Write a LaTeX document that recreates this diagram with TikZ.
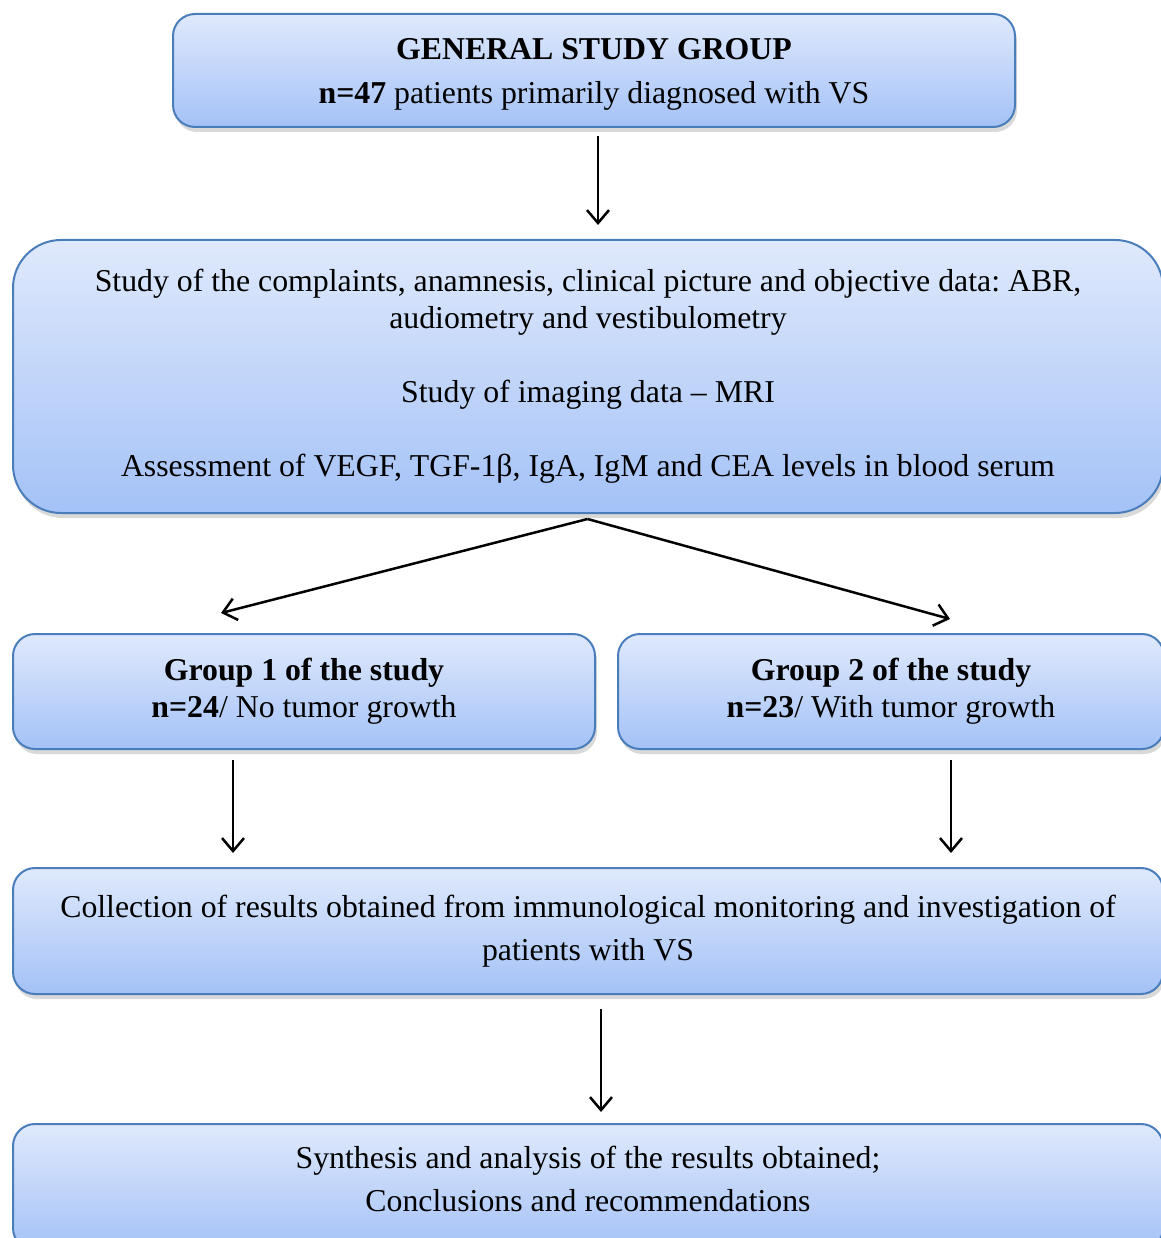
\documentclass[tikz,border=0pt]{standalone}
\usepackage{fontspec}
\setmainfont{Liberation Serif}
\usetikzlibrary{arrows.meta,shadows}
\frenchspacing

\definecolor{boxtop}{RGB}{223,233,252}
\definecolor{boxbot}{RGB}{164,194,247}
\definecolor{boxline}{RGB}{74,126,187}

\tikzset{
  stagebox/.style={draw=boxline, line width=2pt, rounded corners=22pt,
    top color=boxtop, bottom color=boxbot, align=center, inner sep=0pt,
    font=\fontsize{31.8}{37}\selectfont,
    drop shadow={opacity=0.3, shadow xshift=2pt, shadow yshift=-5pt}},
  flowarrow/.style={line width=2.5pt, -{Straight Barb[length=13pt,width=22pt]}}
}

\begin{document}
\begin{tikzpicture}[x=1pt,y=1pt,yscale=-1]
\useasboundingbox (0,0) rectangle (1160,1238);

% boxes
\node [stagebox, minimum width=842pt, minimum height=113pt] (general) at (594,70.5)
  {\rule{0pt}{28pt}\textbf{GENERAL STUDY GROUP}\\[7pt]\textbf{n=47} patients primarily diagnosed with VS};
\node [stagebox, rounded corners=48pt, minimum width=1150pt, minimum height=273pt] (study) at (588,376.5)
  {Study of the complaints, anamnesis, clinical picture and objective data: ABR,\\
   audiometry and vestibulometry\\[37pt]
   Study of imaging data -- MRI\\[37pt]
   Assessment of VEGF, TGF-1β, IgA, IgM and CEA levels in blood serum};
\node [stagebox, minimum width=582pt, minimum height=115pt] (group1) at (304,691.5)
  {\textbf{Group 1 of the study}\\\textbf{n=24}/ No tumor growth};
\node [stagebox, minimum width=546pt, minimum height=115pt] (group2) at (891,691.5)
  {\textbf{Group 2 of the study}\\\textbf{n=23}/ With tumor growth};
\node [stagebox, minimum width=1150pt, minimum height=126pt] (collect) at (588,931)
  {Collection of results obtained from immunological monitoring and investigation of\\[6pt]
   patients with VS};
\node [stagebox, minimum width=1150pt, minimum height=126pt] (synth) at (588,1187)
  {Synthesis and analysis of the results obtained;\\[6pt]
   Conclusions and recommendations\rule[-17pt]{0pt}{1pt}};

% arrow ends
\coordinate (split) at (587.5,519);
\coordinate (g1in) at (221,613);
\coordinate (g2in) at (950,619);

% arrows
\draw [flowarrow, shorten <=8pt, shorten >=14pt] (general.south -| 598,0) -- (study.north -| 598,0);
\draw [flowarrow] (split) -- (g1in);
\draw [flowarrow] (split) -- (g2in);
\draw [flowarrow, shorten <=10pt, shorten >=14pt] (group1.south -| 233,0) -- (collect.north -| 233,0);
\draw [flowarrow, shorten <=10pt, shorten >=14pt] (group2.south -| 951,0) -- (collect.north -| 951,0);
\draw [flowarrow, shorten <=14pt, shorten >=11pt] (collect.south -| 601,0) -- (synth.north -| 601,0);

\end{tikzpicture}
\end{document}
